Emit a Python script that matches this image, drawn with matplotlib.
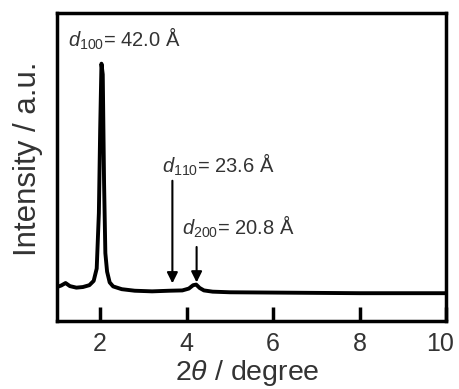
import numpy as np
import matplotlib
matplotlib.use('Agg')
import matplotlib.pyplot as plt
import matplotlib.transforms as mtransforms

plt.rcParams['font.family'] = ['Liberation Sans', 'DejaVu Sans']
plt.rcParams['mathtext.fontset'] = 'custom'
plt.rcParams['mathtext.rm'] = 'Liberation Sans'
plt.rcParams['mathtext.it'] = 'Liberation Sans:italic'

# XRD pattern (arbitrary intensity units)
two_theta = [1.0, 1.1, 1.2, 1.3, 1.45, 1.6, 1.75, 1.85, 1.92, 1.97, 2.0, 2.03,
             2.06, 2.09, 2.12, 2.16, 2.22, 2.3, 2.5, 2.8, 3.2, 3.6, 3.9, 4.05,
             4.15, 4.22, 4.3, 4.4, 4.6, 5.0, 6.0, 7.0, 8.0, 9.0, 10.0]
intensity = [11.0, 11.5, 12.3, 11.3, 10.8, 11.0, 11.6, 13.0, 17.0, 35.0, 62.0, 83.5,
             80.0, 45.0, 22.0, 16.0, 12.5, 11.2, 10.3, 9.8, 9.6, 9.8, 9.9, 10.5,
             11.6, 11.8, 10.7, 9.9, 9.5, 9.3, 9.2, 9.1, 9.0, 9.0, 9.0]

xticks = [2, 4, 6, 8, 10]

# peak labels: text, text position, arrow (x, y_start, y_end)
labels = [r'$\mathit{d}_{\mathrm{100}}$= 42.0 Å',
          r'$\mathit{d}_{\mathrm{110}}$= 23.6 Å',
          r'$\mathit{d}_{\mathrm{200}}$= 20.8 Å']
label_x = [1.25, 3.43, 3.9]
label_y = [91.5, 50.8, 30.4]
arrow_x = [3.67, 4.23]
arrow_top = [45.5, 24.0]
arrow_tip = [12.2, 12.5]

fig = plt.figure(figsize=(4.59, 3.89), dpi=100)
ax = fig.add_axes([0.124, 0.175, 0.848, 0.792])

ax.plot(two_theta, intensity, color='black', lw=2.8, solid_joinstyle='round')

for t, x, y in zip(labels, label_x, label_y):
    ax.text(x, y, t, fontsize=14.5, color='#333333', ha='left', va='center')

for x, y0, y1 in zip(arrow_x, arrow_top, arrow_tip):
    ax.annotate('', xy=(x, y1), xytext=(x, y0),
                arrowprops=dict(arrowstyle='-|>', color='black', lw=1.5,
                                mutation_scale=16, shrinkA=0, shrinkB=0))

ax.set_xlim(1, 10)
ax.set_ylim(0, 100)
ax.set_xticks(xticks)
ax.set_yticks([])
ax.tick_params(axis='x', direction='in', length=10, width=2.5,
               labelsize=18, pad=8, labelcolor='#333333')
for s in ax.spines.values():
    s.set_linewidth(2.5)

# nudge the last tick label left so it stays inside the figure
lab = ax.get_xticklabels()[-1]
lab.set_transform(lab.get_transform() +
                  mtransforms.ScaledTranslation(-6 / 100, 0, fig.dpi_scale_trans))

ax.set_xlabel(r'2$\mathit{\theta}$ / degree', fontsize=20.5, color='#333333')
ax.xaxis.set_label_coords(0.49, -0.12)
ax.xaxis.label.set_va('top')
ax.set_ylabel('Intensity / a.u.', fontsize=22.5, color='#333333')
ax.yaxis.set_label_coords(-0.035, 0.527)

plt.savefig('out.png', dpi=100)
